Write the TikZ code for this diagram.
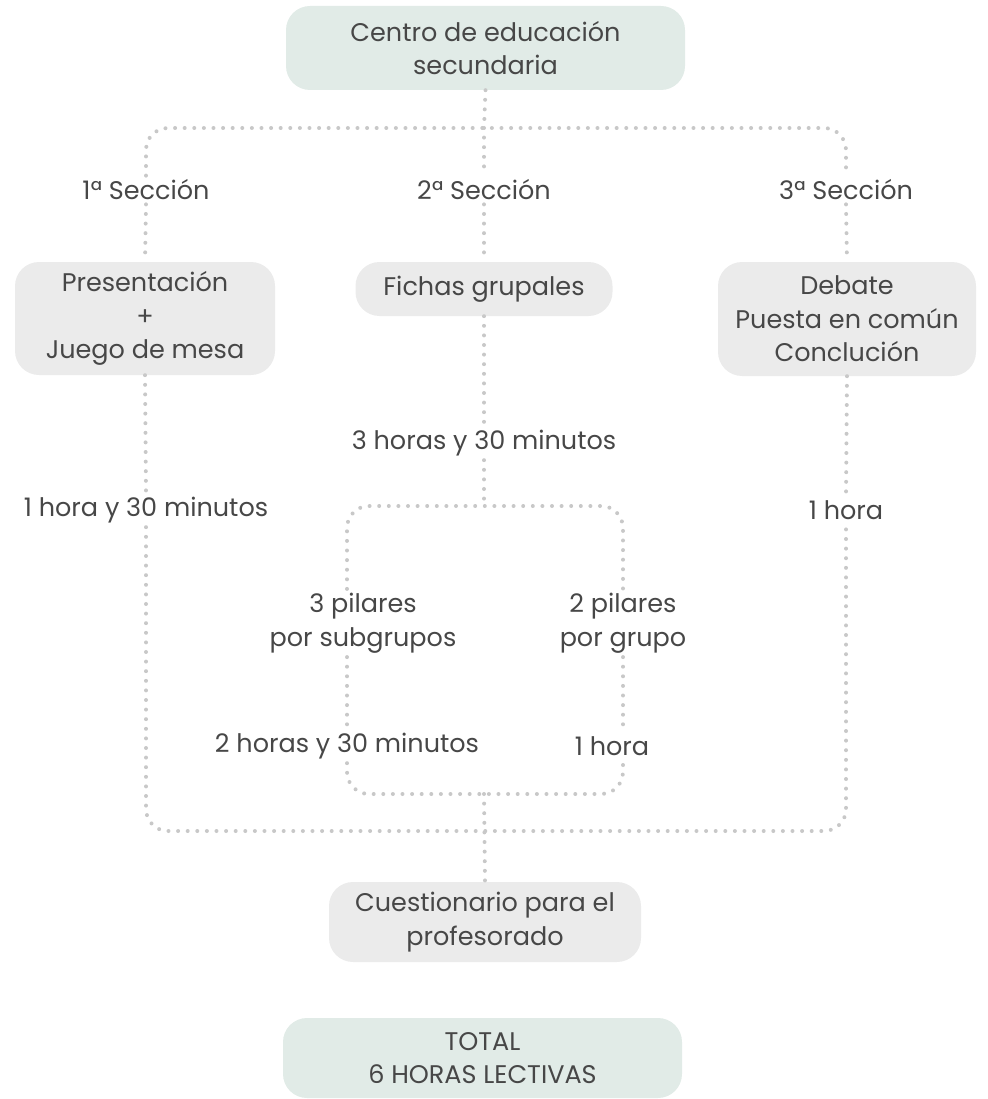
\documentclass[tikz,border=0pt]{standalone}
\usepackage{fontspec}
\setmainfont{Poppins}
\definecolor{txt}{HTML}{474747}
\definecolor{greenbox}{HTML}{E1EBE7}
\definecolor{graybox}{HTML}{EBEBEB}
\definecolor{dotc}{HTML}{C8C8C8}
\begin{document}
\begin{tikzpicture}[x=1pt,y=-1pt,
  every node/.style={text=txt,font=\fontsize{25.5}{33.5}\selectfont,align=center},
  gbox/.style={fill=greenbox,rounded corners=24pt,inner sep=0pt},
  ybox/.style={fill=graybox,rounded corners=24pt,inner sep=0pt},
  lbl/.style={inner sep=4pt},
  dots/.style={draw=dotc,line width=4pt,line cap=round,dash pattern=on 0pt off 9.6pt,rounded corners=22pt}]
\useasboundingbox (0,0) rectangle (987,1099);
% boxes
\node[gbox,minimum width=399pt,minimum height=84pt] (top) at (485.5,48) {Centro de educación\\secundaria};
\node[ybox,minimum width=260pt,minimum height=113pt] (p1) at (145,318.5) {Presentación\\+\\Juego de mesa};
\node[ybox,minimum width=257pt,minimum height=54pt] (p2) at (484,289) {Fichas grupales};
\node[ybox,minimum width=258pt,minimum height=114pt] (p3) at (847,319) {Debate\\Puesta en común\\Conclución};
\node[ybox,minimum width=312pt,minimum height=80pt] (q) at (485,922) {Cuestionario para el\\profesorado};
\node[gbox,minimum width=399pt,minimum height=80pt] (tot) at (482.5,1058) {TOTAL\\6 HORAS LECTIVAS};
% labels
\node[lbl] (s1) at (146,190) {1ª Sección};
\node[lbl] (s2) at (484,190) {2ª Sección};
\node[lbl] (s3) at (846,190) {3ª Sección};
\node[lbl] (t1) at (146,510) {1 hora y 30 minutos};
\node[lbl] (t2) at (484,443) {3 horas y 30 minutos};
\node[lbl] (t3) at (846,510) {1 hora};
\node[lbl] (l3p) at (363,623) {3 pilares\\por subgrupos};
\node[lbl] (l2p) at (623,623) {2 pilares\\por grupo};
\node[lbl] (t25) at (347,746) {2 horas y 30 minutos};
\node[lbl] (t1h) at (612,746) {1 hora};
% coordinates
\coordinate (jt) at (484,128);
\coordinate (tl) at (146,128);
\coordinate (tr) at (846,128);
\coordinate (bl) at (146,831);
\coordinate (br) at (846,831);
\coordinate (itc) at (484,506);
\coordinate (itl) at (347,506);
\coordinate (itr) at (623,506);
\coordinate (ibl) at (347,794);
\coordinate (ibr) at (623,794);
\coordinate (ibc) at (484,794);
% connectors
\draw[dots] (top.south) -- (jt);
\draw[dots] (s1.north) -- (tl) -- (tr) -- (s3.north);
\draw[dots] (jt) -- (s2.north);
\draw[dots] (s1.south) -- (p1.north);
\draw[dots] (s2.south) -- (p2.north);
\draw[dots] (s3.south) -- (p3.north);
\draw[dots] (p1.south) -- (t1.north);
\draw[dots] (p2.south) -- (t2.north);
\draw[dots] (p3.south) -- (t3.north);
\draw[dots] (t1.south) -- (bl) -- (br) -- (t3.south);
\draw[dots] (t2.south) -- (itc);
\draw[dots] (itl |- l3p.north) -- (itl) -- (itr) -- (l2p.north);
\draw[dots] (itl |- l3p.south) -- (t25.north);
\draw[dots] (l2p.south) -- (itr |- t1h.north);
\draw[dots] (t25.south) -- (ibl) -- (ibr) -- (itr |- t1h.south);
\draw[dots] (ibc) -- (q.north);
\end{tikzpicture}
\end{document}
